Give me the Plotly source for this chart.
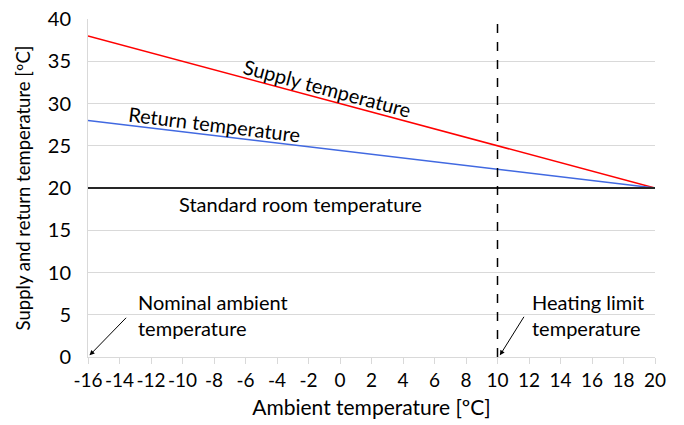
import plotly.graph_objects as go

x_ends = [-16, 20]
supply = [38, 20]
ret = [28, 20]
room = [20, 20]
heating_limit_x = 10
nominal_x = -16
x_ticks = list(range(-16, 21, 2))
y_ticks = list(range(0, 41, 5))

FONT = "Lato"
FS = 20
fig = go.Figure()
fig.add_trace(go.Scatter(x=x_ends, y=supply, mode="lines", line=dict(color="#FF0000", width=1.5), showlegend=False))
fig.add_trace(go.Scatter(x=x_ends, y=ret, mode="lines", line=dict(color="#4169E1", width=1.5), showlegend=False))
fig.add_trace(go.Scatter(x=x_ends, y=room, mode="lines", line=dict(color="#262626", width=2), showlegend=False))
fig.add_trace(go.Scatter(x=[heating_limit_x, heating_limit_x], y=[0, 40], mode="lines",
                         line=dict(color="black", width=1.5, dash="dash"), showlegend=False))

tf = dict(family=FONT, size=FS, color="black")
ann = [
    dict(x=-0.8, y=31.8, text="Supply temperature", showarrow=False, textangle=15, font=tf),
    dict(x=-8.0, y=27.6, text="Return temperature", showarrow=False, textangle=7, font=tf),
    dict(x=-2.5, y=18.1, text="Standard room temperature", showarrow=False, font=tf),
    dict(x=-12.95, y=5.0, text="Nominal ambient<br>temperature", showarrow=False, xanchor="left", align="left", font=tf),
    dict(x=12.06, y=5.0, text="Heating limit<br>temperature", showarrow=False, xanchor="left", align="left", font=tf),
    dict(x=nominal_x + 0.1, y=0.2, ax=38, ay=-39, text="", showarrow=True, arrowhead=2, arrowsize=1,
         arrowwidth=1, arrowcolor="black"),
    dict(x=heating_limit_x + 0.15, y=0.2, ax=25, ay=-40, text="", showarrow=True, arrowhead=2, arrowsize=1,
         arrowwidth=1, arrowcolor="black"),
]
fig.update_layout(
    width=684, height=425, margin=dict(l=88, r=29, t=19, b=68),
    paper_bgcolor="white", plot_bgcolor="white",
    font=dict(family=FONT, size=FS, color="black"),
    annotations=ann,
    xaxis=dict(range=[-16, 20], tickvals=x_ticks, ticktext=[str(v) for v in x_ticks],
               tickangle=0, automargin=False,
               showgrid=False, zeroline=False, showline=True, linecolor="#D9D9D9", linewidth=1,
               ticks="outside", tickcolor="#D9D9D9", ticklen=6,
               title=dict(text="Ambient temperature [ºC]", standoff=10, font=dict(size=21)),
               tickfont=dict(size=19)),
    yaxis=dict(range=[0, 40], tickvals=y_ticks, showgrid=True, gridcolor="#D9D9D9", gridwidth=1,
               zeroline=False, showline=True, linecolor="#D9D9D9", linewidth=1,
               ticklabelstandoff=12, automargin=False,
               title=dict(text="Supply and return temperature [ºC]", standoff=12, font=dict(size=18.5)),
               tickfont=dict(size=FS)),
)
fig.write_html("out.html")
